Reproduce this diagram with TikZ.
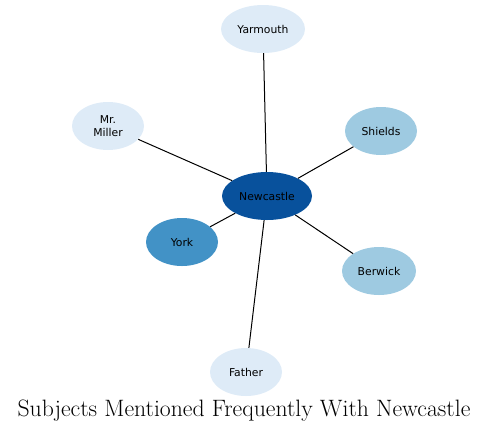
\documentclass[tikz,border=0pt]{standalone}
\usepackage{fontspec}
\usepackage{tikz}
\usetikzlibrary{shapes.geometric}
\newfontfamily\labelfont{DejaVu Sans}

\definecolor{paleblue}{HTML}{DEEBF7}
\definecolor{midblue}{HTML}{9ECAE1}
\definecolor{strongblue}{HTML}{4292C6}
\definecolor{deepblue}{HTML}{08519C}

\begin{document}
\begin{tikzpicture}[x=1pt,y=-1pt,
  subject/.style={ellipse, draw=none, inner sep=0pt, minimum width=72pt, minimum height=48pt,
    font=\labelfont\fontsize{10.8}{12.5}\selectfont, align=center},
  link/.style={line width=1pt}]

\useasboundingbox (0,0) rectangle (489,432);

\node (newcastle) [subject, fill=deepblue, minimum width=90pt] at (267,196) {Newcastle};
\node (yarmouth) [subject, fill=paleblue, minimum width=84pt] at (263,29) {Yarmouth};
\node (miller) [subject, fill=paleblue] at (108,126) {Mr.\\Miller};
\node (shields) [subject, fill=midblue] at (381,131) {Shields};
\node (york) [subject, fill=strongblue] at (182,242) {York};
\node (berwick) [subject, fill=midblue, minimum width=74pt] at (379,271) {Berwick};
\node (father) [subject, fill=paleblue] at (246,372) {Father};

\node (title) at (244,411) {\fontsize{23.7}{28}\selectfont Subjects Mentioned Frequently With Newcastle};

\draw[link] (newcastle) -- (yarmouth);
\draw[link] (newcastle) -- (miller);
\draw[link] (newcastle) -- (shields);
\draw[link] (newcastle) -- (york);
\draw[link] (newcastle) -- (berwick);
\draw[link] (newcastle) -- (father);

\end{tikzpicture}
\end{document}
